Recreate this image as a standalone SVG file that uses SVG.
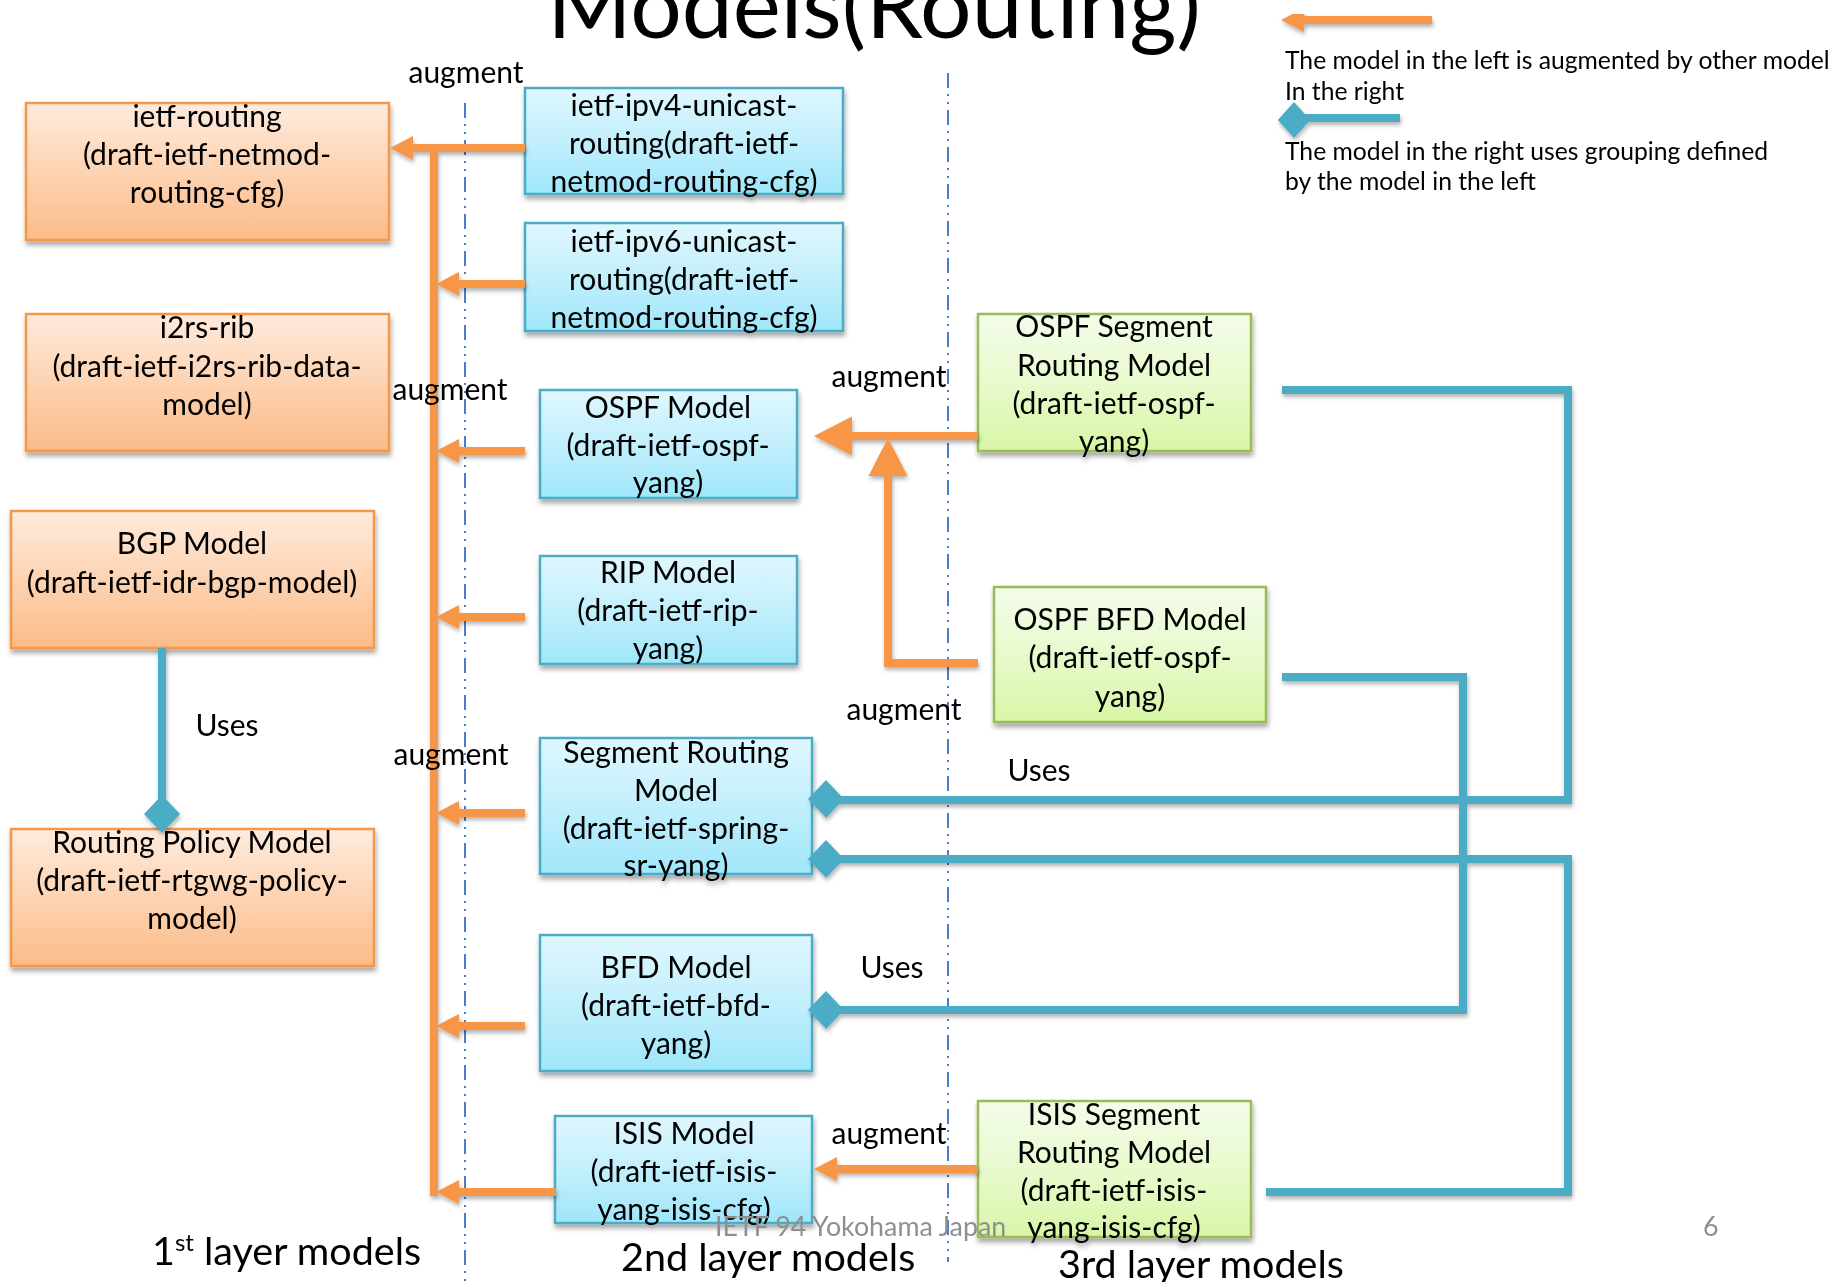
<svg xmlns="http://www.w3.org/2000/svg" width="1833" height="1282" viewBox="0 0 1833 1282">
<defs>
<style>
text{font-family:Lato,"Open Sans","Liberation Sans",sans-serif;fill:#000}
.nt{font-size:30px;text-anchor:middle}
.lb{font-size:30px;text-anchor:middle}
.lg{font-size:24.7px}
.ly{font-size:39.5px}
.ft{font-size:26.8px;fill:#8f8f8f}
.ttl{font-size:91px;text-anchor:middle}
.or{fill:url(#gO);stroke:#F79646;stroke-width:2.5}
.bl{fill:url(#gB);stroke:#4BACC6;stroke-width:2.5}
.gr{fill:url(#gG);stroke:#9BBB59;stroke-width:2.5}
.box{filter:url(#sh)}
.ao{fill:none;stroke:#F79646;stroke-width:8}
.ab{fill:none;stroke:#4BACC6;stroke-width:8}
.dd{fill:none;stroke:#4A7EC8;stroke-width:2;stroke-dasharray:15 6 2 6 2 6}
</style>
<linearGradient id="gO" x1="0" y1="0" x2="0" y2="1"><stop offset="0" stop-color="#FEEBDD"/><stop offset="0.5" stop-color="#FDD3B2"/><stop offset="1" stop-color="#FBBB88"/></linearGradient>
<linearGradient id="gB" x1="0" y1="0" x2="0" y2="1"><stop offset="0" stop-color="#E0F7FE"/><stop offset="0.5" stop-color="#C2EFFC"/><stop offset="1" stop-color="#9FE6FA"/></linearGradient>
<linearGradient id="gG" x1="0" y1="0" x2="0" y2="1"><stop offset="0" stop-color="#F4FCEA"/><stop offset="0.5" stop-color="#E8FACD"/><stop offset="1" stop-color="#D8F6A6"/></linearGradient>
<filter id="sh" x="-5%" y="-5%" width="115%" height="125%"><feDropShadow dx="1" dy="4" stdDeviation="2.5" flood-color="#000" flood-opacity="0.35"/></filter>
<filter id="shl" x="-5%" y="-5%" width="115%" height="125%"><feDropShadow dx="1" dy="3" stdDeviation="2" flood-color="#000" flood-opacity="0.3"/></filter>
<marker id="hs" markerUnits="userSpaceOnUse" markerWidth="30" markerHeight="30" refX="0" refY="12" orient="auto" overflow="visible"><path d="M0,0 L23,12 L0,24 Z" fill="#F79646"/></marker>
<marker id="hl" markerUnits="userSpaceOnUse" markerWidth="44" markerHeight="44" refX="0" refY="19.5" orient="auto" overflow="visible"><path d="M0,0 L38,19.5 L0,39 Z" fill="#F79646"/></marker>
<path id="dia" d="M0,-19 L18,0 L0,19 L-18,0 Z" fill="#4BACC6"/>
</defs>
<rect width="1833" height="1282" fill="#fff"/>

<text class="ttl" x="874" y="38">Models(Routing)</text>

<g id="dividers">
<line class="dd" x1="465" y1="103" x2="465" y2="1282"/>
<line class="dd" x1="948" y1="73" x2="948" y2="1262"/>
</g>

<g id="n-ietf-routing" class="box"><rect class="or" x="26" y="103" width="363" height="137"/>
<text class="nt" x="207" y="127">ietf-routing</text><text class="nt" x="207" y="165">(draft-ietf-netmod-</text><text class="nt" x="207" y="203">routing-cfg)</text></g>
<g id="n-i2rs-rib" class="box"><rect class="or" x="26" y="314" width="363" height="137"/>
<text class="nt" x="207" y="338">i2rs-rib</text><text class="nt" x="207" y="377">(draft-ietf-i2rs-rib-data-</text><text class="nt" x="207" y="415">model)</text></g>
<g id="n-bgp" class="box"><rect class="or" x="11" y="511" width="363" height="137"/>
<text class="nt" x="192" y="554">BGP Model</text><text class="nt" x="192" y="593">(draft-ietf-idr-bgp-model)</text></g>
<g id="n-policy" class="box"><rect class="or" x="11" y="829" width="363" height="137"/>
<text class="nt" x="192" y="853">Routing Policy Model</text><text class="nt" x="192" y="891">(draft-ietf-rtgwg-policy-</text><text class="nt" x="192" y="929">model)</text></g>

<g id="n-ipv4" class="box"><rect class="bl" x="525" y="88" width="318" height="106"/>
<text class="nt" x="684" y="116">ietf-ipv4-unicast-</text><text class="nt" x="684" y="154">routing(draft-ietf-</text><text class="nt" x="684" y="192">netmod-routing-cfg)</text></g>
<g id="n-ipv6" class="box"><rect class="bl" x="525" y="223" width="318" height="108"/>
<text class="nt" x="684" y="252">ietf-ipv6-unicast-</text><text class="nt" x="684" y="290">routing(draft-ietf-</text><text class="nt" x="684" y="328">netmod-routing-cfg)</text></g>
<g id="n-ospf" class="box"><rect class="bl" x="540" y="390" width="257" height="108"/>
<text class="nt" x="668" y="418">OSPF Model</text><text class="nt" x="668" y="456">(draft-ietf-ospf-</text><text class="nt" x="668" y="493">yang)</text></g>
<g id="n-rip" class="box"><rect class="bl" x="540" y="556" width="257" height="108"/>
<text class="nt" x="668" y="583">RIP Model</text><text class="nt" x="668" y="621">(draft-ietf-rip-</text><text class="nt" x="668" y="659">yang)</text></g>
<g id="n-sr" class="box"><rect class="bl" x="540" y="738" width="272" height="136"/>
<text class="nt" x="676" y="763">Segment Routing</text><text class="nt" x="676" y="801">Model</text><text class="nt" x="676" y="839">(draft-ietf-spring-</text><text class="nt" x="676" y="876">sr-yang)</text></g>
<g id="n-bfd" class="box"><rect class="bl" x="540" y="935" width="272" height="136"/>
<text class="nt" x="676" y="978">BFD Model</text><text class="nt" x="676" y="1016">(draft-ietf-bfd-</text><text class="nt" x="676" y="1054">yang)</text></g>
<g id="n-isis" class="box"><rect class="bl" x="555" y="1116" width="257" height="107"/>
<text class="nt" x="684" y="1144">ISIS Model</text><text class="nt" x="684" y="1182">(draft-ietf-isis-</text><text class="nt" x="684" y="1220">yang-isis-cfg)</text></g>

<g id="n-ospf-sr" class="box"><rect class="gr" x="978" y="314" width="273" height="137"/>
<text class="nt" x="1114" y="337">OSPF Segment</text><text class="nt" x="1114" y="376">Routing Model</text><text class="nt" x="1114" y="414">(draft-ietf-ospf-</text><text class="nt" x="1114" y="452">yang)</text></g>
<g id="n-ospf-bfd" class="box"><rect class="gr" x="994" y="587" width="272" height="135"/>
<text class="nt" x="1130" y="630">OSPF BFD Model</text><text class="nt" x="1130" y="668">(draft-ietf-ospf-</text><text class="nt" x="1130" y="707">yang)</text></g>
<g id="n-isis-sr" class="box"><rect class="gr" x="978" y="1101" width="273" height="136"/>
<text class="nt" x="1114" y="1125">ISIS Segment</text><text class="nt" x="1114" y="1163">Routing Model</text><text class="nt" x="1114" y="1201">(draft-ietf-isis-</text><text class="nt" x="1114" y="1238">yang-isis-cfg)</text></g>

<g id="connectors" filter="url(#shl)">
<path class="ao" d="M434,148 V1196"/>
<path class="ao" d="M525,148 H413" marker-end="url(#hs)"/>
<path class="ao" d="M525,284 H459" marker-end="url(#hs)"/>
<path class="ao" d="M525,451 H459" marker-end="url(#hs)"/>
<path class="ao" d="M525,617 H459" marker-end="url(#hs)"/>
<path class="ao" d="M525,813 H459" marker-end="url(#hs)"/>
<path class="ao" d="M525,1026 H459" marker-end="url(#hs)"/>
<path class="ao" d="M556,1192 H459" marker-end="url(#hs)"/>
<path class="ao" d="M978,436 H852" marker-end="url(#hl)"/>
<path class="ao" d="M978,663 H888 V476" marker-end="url(#hl)"/>
<path class="ao" d="M978,1169 H837" marker-end="url(#hs)"/>
<path class="ab" d="M162,648 V800"/>
<use href="#dia" x="162" y="814"/>
<path class="ab" d="M1282,390 H1568 V800 H836"/>
<use href="#dia" x="826" y="799"/>
<path class="ab" d="M1266,1192 H1568 V859 H836"/>
<use href="#dia" x="826" y="859"/>
<path class="ab" d="M1282,677 H1463 V1010 H836"/>
<use href="#dia" x="826" y="1010"/>
</g>

<g id="labels">
<text class="lb" x="466" y="83">augment</text>
<text class="lb" x="450" y="400">augment</text>
<text class="lb" x="889" y="387">augment</text>
<text class="lb" x="904" y="720">augment</text>
<text class="lb" x="451" y="765">augment</text>
<text class="lb" x="889" y="1144">augment</text>
<text class="lb" x="227" y="736">Uses</text>
<text class="lb" x="1039" y="781">Uses</text>
<text class="lb" x="892" y="978">Uses</text>
</g>

<g id="legend" filter="url(#shl)">
<path class="ao" d="M1432,20 H1304" marker-end="url(#hs)"/>
<path class="ab" d="M1400,118 H1300"/>
<use href="#dia" x="1294" y="120" transform="translate(1294 120) scale(0.9 0.95) translate(-1294 -120)"/>
</g>
<g id="legend-text">
<text class="lg" x="1285" y="69">The model in the left is augmented by other model</text>
<text class="lg" x="1285" y="100">In the right</text>
<text class="lg" x="1285" y="160">The model in the right uses grouping defined</text>
<text class="lg" x="1285" y="190">by the model in the left</text>
</g>

<g id="layers">
<text class="ly" x="152" y="1265">1<tspan font-size="24" dy="-14">st</tspan><tspan dy="14"> layer models</tspan></text>
<text class="ly" x="621" y="1271">2nd layer models</text>
<text class="ly" x="1058" y="1278">3rd layer models</text>
</g>
<g id="footer">
<text class="ft" x="715" y="1236">IETF 94 Yokohama Japan</text>
<text class="ft" x="1703" y="1236">6</text>
</g>
</svg>
